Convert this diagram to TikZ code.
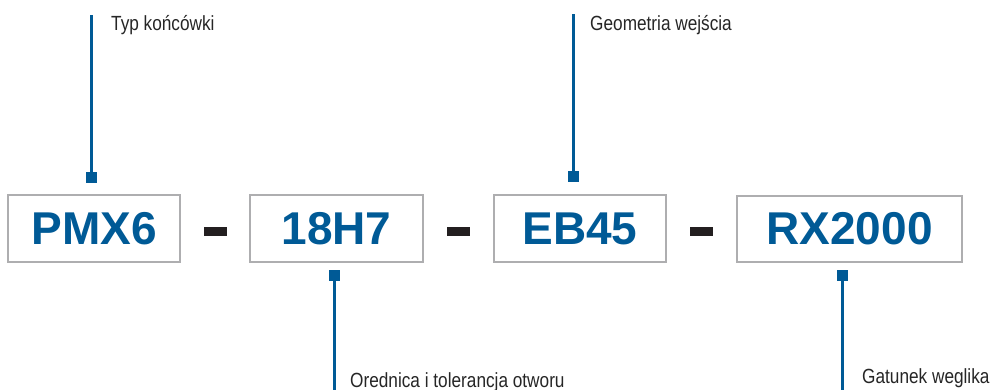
\documentclass[tikz,border=0pt]{standalone}
\usepackage{fontspec}
\setmainfont{Liberation Sans}
\newfontfamily\labelfont{Liberation Sans}[FakeStretch=0.84]
\definecolor{codeblue}{HTML}{005A96}
\definecolor{boxgray}{HTML}{AEAEB0}
\definecolor{dashblack}{HTML}{231F20}
\begin{document}
\begin{tikzpicture}[x=1pt,y=-1pt,
  codebox/.style={draw=boxgray,line width=2pt,minimum height=66pt,inner sep=0pt,
    text=codeblue,font=\fontsize{46}{50}\selectfont\bfseries},
  sepdash/.style={fill=dashblack,minimum width=23pt,minimum height=9pt,inner sep=0pt},
  marker/.style={fill=codeblue,minimum size=11pt,inner sep=0pt},
  leader/.style={draw=codeblue,line width=2.5pt},
  lbl/.style={anchor=base west,inner sep=0pt,text=black!85,font=\labelfont\fontsize{20.5}{24}\selectfont}]
\useasboundingbox (0,0) rectangle (993,390);
% code boxes
\node[codebox,minimum width=172pt] (b1) at (94,228.5) {PMX6};
\node[codebox,minimum width=173pt] (b2) at (336.5,228.5) {18H7};
\node[codebox,minimum width=172pt] (b3) at (580,228.5) {EB45};
\node[codebox,minimum width=225pt] (b4) at (849.5,229) {RX2000};
% dashes
\node[sepdash] (d1) at (215.5,231.5) {};
\node[sepdash] (d2) at (458.5,231.5) {};
\node[sepdash] (d3) at (701.5,231.5) {};
% markers
\node[marker] (m1) at (91.5,177.5) {};
\node[marker] (m2) at (334.5,275.5) {};
\node[marker] (m3) at (573.5,176.5) {};
\node[marker] (m4) at (842.5,275.5) {};
% leader ends
\coordinate (t1) at (91.5,15);
\coordinate (t2) at (334.5,391);
\coordinate (t3) at (573.5,14);
\coordinate (t4) at (842.5,391);
\draw[leader] (m1.center) -- (t1);
\draw[leader] (m2.center) -- (t2);
\draw[leader] (m3.center) -- (t3);
\draw[leader] (m4.center) -- (t4);
% labels
\node[lbl] (l1) at (111,31) {Typ końcówki};
\node[lbl] (l3) at (590,31) {Geometria wejścia};
\node[lbl] (l2) at (350,387) {Orednica i tolerancja otworu};
\node[lbl] (l4) at (862,383) {Gatunek weglika};
\end{tikzpicture}
\end{document}
